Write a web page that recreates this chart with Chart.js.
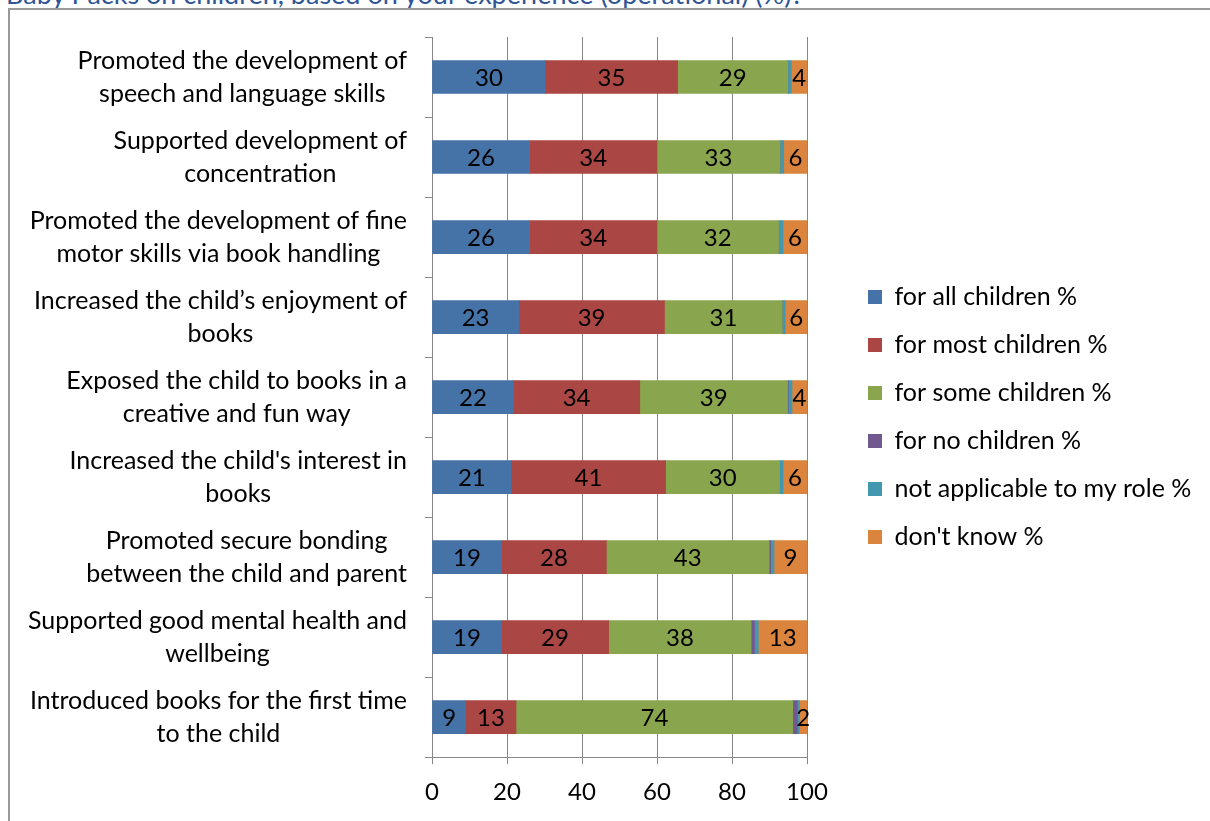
<!DOCTYPE html>
<html>
<head>
<meta charset="utf-8">
<script src="https://cdn.jsdelivr.net/npm/chart.js@4/dist/chart.umd.min.js"></script>
<style>
    html, body { margin: 0; padding: 0; background: #fff; overflow: hidden; }
    #wrap { position: relative; width: 1210px; height: 821px; overflow: hidden; }
    #frame { position: absolute; left: 8px; top: 8px; width: 1300px; height: 900px; border: 2px solid #9a9a9a; box-sizing: border-box; }
    #title { position: absolute; left: 6px; top: -20px; font: 27px Lato; line-height: 27px; color: #2f5597; white-space: nowrap; }
    #chart { position: absolute; left: 0; top: 0; }
</style>
</head>
<body>
<div id="wrap">
    <div id="title">Baby Packs on children, based on your experience (operational) (%)?</div>
    <div id="frame"></div>
    <canvas id="chart" width="1210" height="821" style="width:1210px;height:821px"></canvas>
</div>
<script>
// dữ liệu
const categories = [
    ["Promoted the development of", "speech and language skills"],
    ["Supported development of", "concentration"],
    ["Promoted the development of fine", "motor skills via book handling"],
    ["Increased the child’s enjoyment of", "books"],
    ["Exposed the child to books in a", "creative and fun way"],
    ["Increased the child's interest in", "books"],
    ["Promoted secure bonding", "between the child and parent"],
    ["Supported good mental health and", "wellbeing"],
    ["Introduced books for the first time", "to the child"],
];
const forAll = [30.2, 26.0, 26.0, 23.1, 21.7, 21.1, 18.5, 18.5, 9.0];
const forMost = [35.3, 34.0, 34.0, 38.9, 33.7, 41.2, 28.0, 28.6, 13.4];
const forSome = [29.4, 32.8, 32.4, 31.4, 39.4, 30.4, 43.4, 38.0, 73.8];
const forNone = [0, 0, 0, 0, 0.2, 0, 0.4, 0.9, 1.2];
const notApplicable = [0.9, 1.0, 1.2, 0.8, 1.0, 0.9, 0.9, 1.0, 0.6];
const dontKnow = [4.2, 6.2, 6.4, 5.8, 4.0, 6.4, 8.8, 13.0, 2.0];
const xTicks = [0, 20, 40, 60, 80, 100];

const FONT = "Lato";
const AXIS_COLOR = "#868686";
const LABEL_RIGHT = 407;
const LINE_H = 33;
const LEGEND_BOX_X = 868;
const LEGEND_SHIFT_Y = -12;

function makeSet(label, data, color, showValue) {
    return { label, data, backgroundColor: color, borderWidth: 0, showValue };
}

// nhãn trục y: khối căn phải, từng dòng căn giữa
const yLabelPlugin = {
    id: "yLabels",
    afterDraw(chart) {
        const ctx = chart.ctx;
        const yScale = chart.scales.y;
        ctx.save();
        ctx.font = `25px ${FONT}`;
        ctx.fillStyle = "#000";
        ctx.textAlign = "center";
        ctx.textBaseline = "middle";
        categories.forEach((lines, i) => {
            const yc = yScale.getPixelForTick(i);
            const w = Math.max(...lines.map(l => ctx.measureText(l).width));
            const xc = LABEL_RIGHT - w / 2;
            lines.forEach((l, j) => {
                ctx.fillText(l, xc, yc + (j - (lines.length - 1) / 2) * LINE_H);
            });
        });
        ctx.restore();
    },
};

// số trên từng đoạn
const valuePlugin = {
    id: "values",
    afterDatasetsDraw(chart) {
        const ctx = chart.ctx;
        ctx.save();
        ctx.font = `24px ${FONT}`;
        ctx.fillStyle = "#000";
        ctx.textAlign = "center";
        ctx.textBaseline = "middle";
        chart.data.datasets.forEach((ds, di) => {
            if (!ds.showValue) return;
            const meta = chart.getDatasetMeta(di);
            meta.data.forEach((bar, i) => {
                const v = ds.data[i];
                if (!v) return;
                const { x, y, base } = bar.getProps(["x", "y", "base"], true);
                ctx.fillText(String(Math.round(v)), (x + base) / 2, y + 1);
            });
        });
        ctx.restore();
    },
};

// chú thích: cố định độ rộng và vị trí
const legendPlacePlugin = {
    id: "legendPlace",
    beforeLayout(chart) {
        const lg = chart.legend;
        if (lg && !lg._patched) {
            const origFit = lg.fit.bind(lg);
            lg.fit = function () {
                origFit();
                this.width = chart.width - 807;
            };
            lg._patched = true;
        }
    },
    afterLayout(chart) {
        const lg = chart.legend;
        const w = lg.width;
        lg.left = LEGEND_BOX_X - lg.options.labels.padding;
        lg.right = lg.left + w;
        lg.top += LEGEND_SHIFT_Y;
        lg.bottom += LEGEND_SHIFT_Y;
    },
};

function draw() {
    const ctx = document.getElementById("chart").getContext("2d");
    new Chart(ctx, {
        type: "bar",
        data: {
            labels: categories,
            datasets: [
                makeSet("for all children %", forAll, "#4572A7", true),
                makeSet("for most children %", forMost, "#AA4643", true),
                makeSet("for some children %", forSome, "#89A54E", true),
                makeSet("for no children %", forNone, "#71588F", false),
                makeSet("not applicable to my role %", notApplicable, "#4198AF", false),
                makeSet("don't know %", dontKnow, "#DB843D", true),
            ],
        },
        options: {
            indexAxis: "y",
            responsive: false,
            animation: false,
            events: [],
            layout: { padding: { top: 37, bottom: 0, left: 0, right: 0 } },
            datasets: { bar: { barThickness: 33 } },
            scales: {
                x: {
                    stacked: true,
                    min: 0,
                    max: 100,
                    afterBuildTicks: (scale) => {
                        scale.ticks = xTicks.map(v => ({ value: v }));
                    },
                    ticks: { color: "#000", font: { family: FONT, size: 24 }, padding: 14 },
                    grid: { color: AXIS_COLOR, lineWidth: 1, tickLength: 7 },
                    border: { color: AXIS_COLOR, width: 1 },
                },
                y: {
                    stacked: true,
                    afterFit: (scale) => { scale.width = 432; },
                    ticks: { color: "rgba(0,0,0,0)", font: { family: FONT, size: 20, lineHeight: 1 }, padding: 0 },
                    grid: { drawOnChartArea: false, color: AXIS_COLOR, tickLength: 7, offset: true },
                    border: { color: AXIS_COLOR, width: 1 },
                },
            },
            plugins: {
                legend: {
                    position: "right",
                    align: "center",
                    labels: {
                        boxWidth: 14,
                        boxHeight: 14,
                        padding: 23,
                        color: "#000",
                        font: { family: FONT, size: 25 },
                    },
                },
                tooltip: { enabled: false },
            },
        },
        plugins: [legendPlacePlugin, valuePlugin, yLabelPlugin],
    });
}

document.fonts.load(`25px ${FONT}`).then(draw, draw);
</script>
</body>
</html>
